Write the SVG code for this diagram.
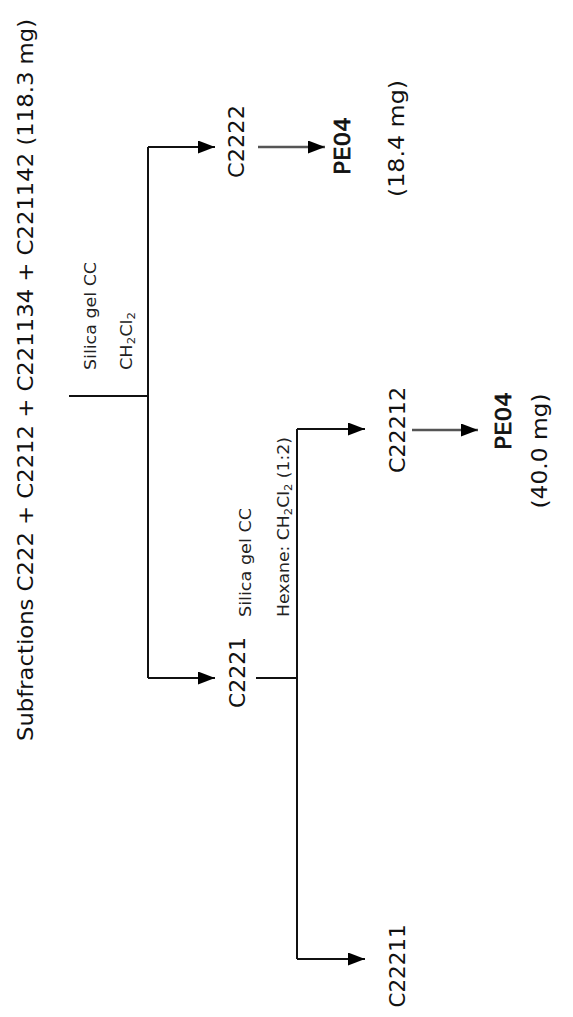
<svg xmlns="http://www.w3.org/2000/svg" width="573" height="1017" viewBox="0 0 573 1017">
  <style>
    .lbl { font-family: "DejaVu Sans", "Liberation Sans", sans-serif; font-size: 22px; fill: #111; }
    .bold { stroke: #111; stroke-width: 0.7; }
    .note { font-family: "DejaVu Sans", "Liberation Sans", sans-serif; font-size: 15px; fill: #222; }
    .mid { text-anchor: middle; }
    .wire { fill: none; stroke: #111; stroke-width: 2; }
    .grey { fill: none; stroke: #555; stroke-width: 2.5; }
  </style>
  <defs>
    <marker id="arrow" markerUnits="userSpaceOnUse" markerWidth="17" markerHeight="13" refX="17" refY="6.5" orient="auto">
      <path d="M0,0 L17,6.5 L0,13 Z" fill="#000"/>
    </marker>
  </defs>
  <rect width="573" height="1017" fill="#fff"/>

  <!-- connectors -->
  <g id="connectors">
    <path class="wire" d="M69,396 H148"/>
    <path class="wire" d="M148,147 V678"/>
    <path class="wire" d="M148,147 H215" marker-end="url(#arrow)"/>
    <path class="wire" d="M148,678 H215" marker-end="url(#arrow)"/>
    <path class="grey" d="M258,147 H325" marker-end="url(#arrow)"/>
    <path class="wire" d="M256,678 H297"/>
    <path class="wire" d="M297,429 V959"/>
    <path class="wire" d="M297,429 H365" marker-end="url(#arrow)"/>
    <path class="wire" d="M297,959 H365" marker-end="url(#arrow)"/>
    <path class="grey" d="M412,430 H478" marker-end="url(#arrow)"/>
  </g>

  <!-- starting material -->
  <g id="start">
    <text class="lbl mid" transform="translate(33,380) rotate(-90)" textLength="722" lengthAdjust="spacingAndGlyphs">Subfractions C222 + C2212 + C221134 + C221142 (118.3 mg)</text>
  </g>

  <!-- first column separation -->
  <g id="step1">
    <text class="note" transform="translate(96,370) rotate(-90)" textLength="108" lengthAdjust="spacingAndGlyphs">Silica gel CC</text>
    <text class="note" transform="translate(132,370) rotate(-90)" textLength="58" lengthAdjust="spacingAndGlyphs">CH<tspan font-size="10" dy="3">2</tspan><tspan dy="-3">Cl</tspan><tspan font-size="10" dy="3">2</tspan></text>
  </g>

  <g id="C2222">
    <text class="lbl mid" transform="translate(244,141.5) rotate(-90)" textLength="73" lengthAdjust="spacingAndGlyphs">C2222</text>
  </g>
  <g id="PE04-a">
    <text class="lbl bold mid" transform="translate(350,146) rotate(-90)" textLength="58" lengthAdjust="spacingAndGlyphs">PE04</text>
    <text class="lbl mid" transform="translate(404,138.5) rotate(-90)" textLength="117" lengthAdjust="spacingAndGlyphs">(18.4 mg)</text>
  </g>

  <g id="C2221">
    <text class="lbl mid" transform="translate(245,672.5) rotate(-90)" textLength="71" lengthAdjust="spacingAndGlyphs">C2221</text>
  </g>

  <!-- second column separation -->
  <g id="step2">
    <text class="note" transform="translate(251,617) rotate(-90)" textLength="109" lengthAdjust="spacingAndGlyphs">Silica gel CC</text>
    <text class="note" transform="translate(289,617) rotate(-90)" textLength="180" lengthAdjust="spacingAndGlyphs">Hexane: CH<tspan font-size="10" dy="3">2</tspan><tspan dy="-3">Cl</tspan><tspan font-size="10" dy="3">2</tspan><tspan dy="-3"> (1:2)</tspan></text>
  </g>

  <g id="C22212">
    <text class="lbl mid" transform="translate(405,430) rotate(-90)" textLength="86" lengthAdjust="spacingAndGlyphs">C22212</text>
  </g>
  <g id="PE04-b">
    <text class="lbl bold mid" transform="translate(511,421) rotate(-90)" textLength="58" lengthAdjust="spacingAndGlyphs">PE04</text>
    <text class="lbl mid" transform="translate(547,451) rotate(-90)" textLength="115" lengthAdjust="spacingAndGlyphs">(40.0 mg)</text>
  </g>

  <g id="C22211">
    <text class="lbl mid" transform="translate(405,966) rotate(-90)" textLength="83" lengthAdjust="spacingAndGlyphs">C22211</text>
  </g>
</svg>
